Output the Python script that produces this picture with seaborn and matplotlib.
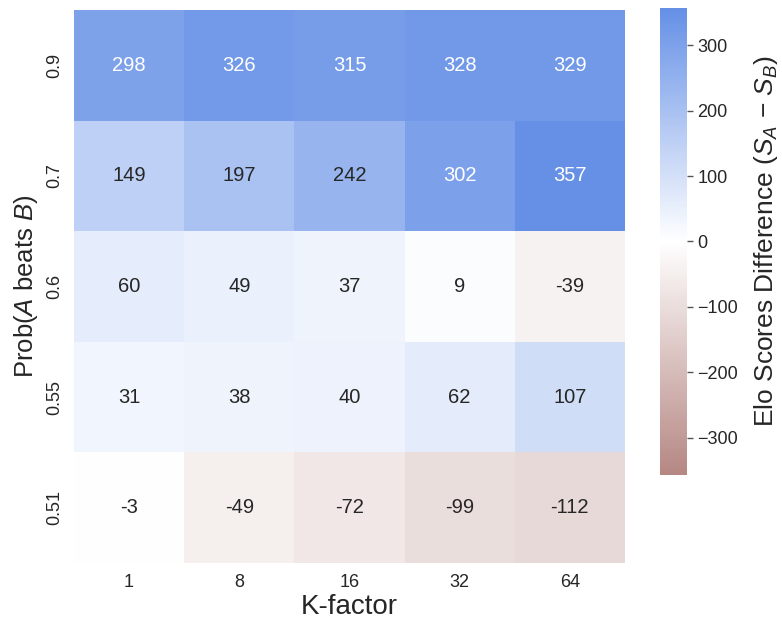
import numpy as np
import pandas as pd
import matplotlib
matplotlib.use("Agg")
import matplotlib.pyplot as plt
import seaborn as sns
from matplotlib.colors import LinearSegmentedColormap

# data
k_factors = ["1", "8", "16", "32", "64"]
probs = ["0.9", "0.7", "0.6", "0.55", "0.51"]
row_09 = [298, 326, 315, 328, 329]
row_07 = [149, 197, 242, 302, 357]
row_06 = [60, 49, 37, 9, -39]
row_055 = [31, 38, 40, 62, 107]
row_051 = [-3, -49, -72, -99, -112]

df = pd.DataFrame([row_09, row_07, row_06, row_055, row_051], index=probs, columns=k_factors)

sns.set_theme(style="white")
plt.rcParams["font.family"] = ["Liberation Sans", "DejaVu Sans"]
plt.rcParams["mathtext.fontset"] = "custom"
plt.rcParams["mathtext.rm"] = "Liberation Sans"
plt.rcParams["mathtext.it"] = "Liberation Sans:italic"

cmap = LinearSegmentedColormap.from_list("elo", ["#b58783", "#ffffff", "#6590e6"])
vmax = np.abs(df.values).max()

fig = plt.figure(figsize=(7.82, 6.2), dpi=100)
ax = fig.add_axes([0.0946, 0.0919, 0.7046, 0.892])
cax = fig.add_axes([0.844, 0.234, 0.0345, 0.753])

sns.heatmap(df, ax=ax, cbar_ax=cax, cmap=cmap, vmin=-vmax, vmax=vmax, center=0,
            annot=True, fmt="d", annot_kws={"fontsize": 14.5})

ax.set_xlabel("K-factor", fontsize=20, labelpad=2)
ax.set_ylabel("Prob($A$ beats $B$)", fontsize=18.5, labelpad=4)
ax.tick_params(axis="x", labelsize=13, length=0, pad=8)
ax.tick_params(axis="y", labelsize=13, length=0, pad=8)
plt.setp(ax.get_yticklabels(), rotation=90, va="center")

cbar = ax.collections[0].colorbar
cbar.set_ticks([-300, -200, -100, 0, 100, 200, 300])
cbar.ax.tick_params(labelsize=13, length=4, width=1, color="#555555")
cbar.outline.set_visible(False)
cbar.set_label("Elo Scores Difference ($S_A$ \u2212 $S_B$)", fontsize=19, labelpad=10)

fig.savefig("out.png", dpi=100)
